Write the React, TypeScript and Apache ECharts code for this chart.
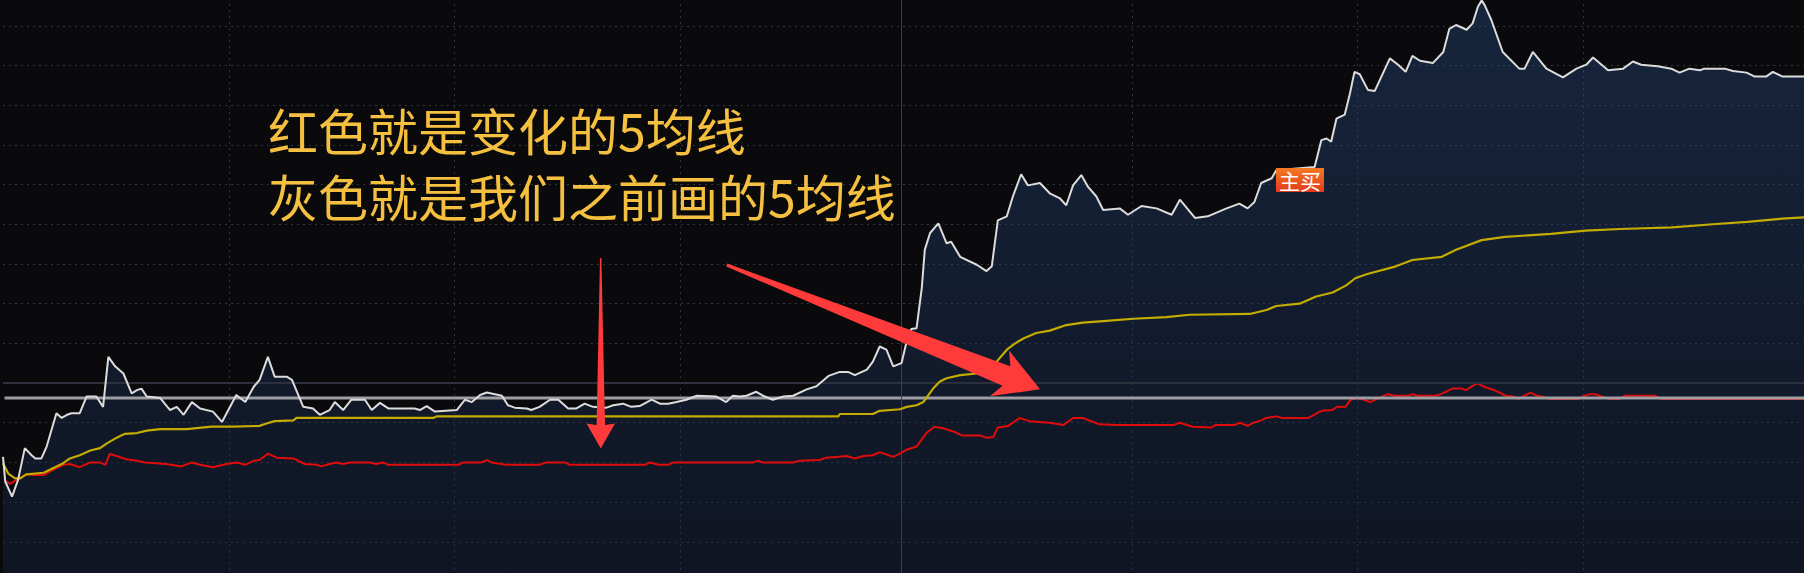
import React, { useEffect, useRef } from "react";
import * as echarts from "echarts";

// Intraday minutes (0 = 09:30, 120 = 11:30/13:00, 240 = 15:00) and % change vs previous close
const priceLine: [number, number][] = [
  [0, -0.93], [0.3, -1.24], [1.2, -1.43], [2.0, -1.22], [2.9, -0.82], [3.8, -0.91], [4.3, -0.95], [5.1, -0.95],
  [5.8, -0.8], [7.1, -0.38], [7.8, -0.44], [8.5, -0.4], [9.1, -0.38], [10.2, -0.38], [11.1, -0.17], [12.4, -0.17],
  [13.3, -0.3], [14.0, 0.33], [14.9, 0.21], [16.0, 0.12], [17.1, -0.13], [17.8, -0.09], [18.4, -0.07], [19.1, -0.17],
  [20.9, -0.19], [22.2, -0.34], [23.1, -0.3], [24.0, -0.4], [25.1, -0.24], [26.2, -0.32], [27.9, -0.36], [29.1, -0.49],
  [31.0, -0.15], [32.2, -0.24], [33.3, -0.05], [34.1, 0.04], [35.2, 0.33], [36.1, 0.08], [37.7, 0.08], [38.4, 0.04],
  [39.9, -0.3], [41.2, -0.32], [42.1, -0.4], [43.4, -0.34], [44.1, -0.24], [45.2, -0.34], [46.3, -0.21], [48.1, -0.21],
  [49.0, -0.34], [50.1, -0.25], [51.2, -0.32], [54.7, -0.32], [55.4, -0.34], [56.3, -0.29], [57.4, -0.36], [60.3, -0.34],
  [61.4, -0.21], [62.3, -0.24], [63.4, -0.15], [64.3, -0.12], [66.3, -0.16], [67.1, -0.28], [68.0, -0.31], [69.6, -0.32],
  [70.2, -0.34], [71.3, -0.3], [72.7, -0.21], [73.8, -0.21], [75.1, -0.32], [76.2, -0.32], [77.3, -0.26], [78.4, -0.3],
  [80.2, -0.31], [81.1, -0.28], [82.4, -0.26], [83.5, -0.3], [84.6, -0.29], [86.2, -0.21], [87.3, -0.26], [88.4, -0.26],
  [89.5, -0.24], [90.8, -0.21], [92.2, -0.16], [94.8, -0.17], [96.1, -0.24], [97.0, -0.16], [97.9, -0.17], [98.8, -0.16],
  [100.1, -0.11], [101.0, -0.16], [102.3, -0.21], [103.7, -0.17], [105.0, -0.16], [106.8, -0.08], [108.1, -0.04], [109.7, 0.09],
  [111.2, 0.14], [112.3, 0.14], [113.2, 0.1], [114.8, 0.17], [115.6, 0.27], [116.5, 0.46], [117.4, 0.42], [118.3, 0.21],
  [119.4, 0.25], [120.1, 0.53], [120.7, 0.68], [121.4, 0.69], [122.1, 1.2], [122.5, 1.68], [123.2, 1.89], [124.3, 2.01],
  [125.4, 1.76], [126.0, 1.78], [127.2, 1.59], [129.4, 1.49], [130.7, 1.41], [131.4, 1.47], [132.2, 2.05], [133.4, 2.1],
  [134.2, 2.35], [135.3, 2.63], [136.2, 2.49], [137.8, 2.52], [139.1, 2.39], [140.4, 2.33], [141.3, 2.24], [142.2, 2.49],
  [143.3, 2.62], [144.2, 2.47], [145.3, 2.35], [146.2, 2.18], [148.4, 2.2], [149.5, 2.12], [151.3, 2.23], [153.3, 2.2],
  [155.3, 2.12], [156.4, 2.31], [158.4, 2.08], [160.1, 2.1], [162.6, 2.2], [164.3, 2.26], [165.4, 2.2], [166.3, 2.28],
  [167.2, 2.52], [168.6, 2.58], [169.2, 2.68], [174.3, 2.72], [175.2, 3.06], [175.9, 3.08], [176.5, 3.04], [177.2, 3.33],
  [178.3, 3.38], [179.0, 3.65], [179.6, 3.92], [180.3, 3.89], [181.4, 3.69], [182.3, 3.68], [184.3, 4.09], [185.4, 4.01],
  [186.4, 3.92], [187.3, 4.12], [188.3, 4.06], [190.0, 4.03], [191.4, 4.17], [192.2, 4.46], [193.1, 4.51], [194.5, 4.45],
  [195.3, 4.53], [196.0, 4.74], [196.5, 4.82], [196.9, 4.76], [197.8, 4.57], [199.3, 4.17], [201.5, 3.96], [202.2, 3.96],
  [203.3, 4.17], [205.1, 3.96], [207.3, 3.85], [209.1, 3.96], [210.4, 4.01], [211.3, 4.1], [213.3, 3.94], [215.3, 3.96],
  [216.6, 4.05], [217.7, 4.01], [219.9, 3.99], [221.7, 3.96], [222.8, 3.91], [224.1, 3.96], [225.5, 3.94], [226.1, 3.96],
  [228.8, 3.96], [229.9, 3.93], [231.7, 3.91], [232.8, 3.86], [234.3, 3.86], [235.2, 3.92], [236.5, 3.86], [240, 3.86],
];

const avgLine: [number, number][] = [
  [0, -1.01], [0.7, -1.14], [1.6, -1.2], [2.3, -1.2], [3.1, -1.15], [5.4, -1.13], [6.7, -1.07], [8.0, -1.01],
  [8.9, -0.95], [10.2, -0.91], [11.6, -0.85], [12.9, -0.82], [13.8, -0.76], [14.9, -0.7], [16.2, -0.64], [17.8, -0.63],
  [19.1, -0.6], [20.9, -0.58], [24.4, -0.58], [27.7, -0.55], [30.6, -0.55], [34.1, -0.54], [35.0, -0.51], [36.1, -0.48],
  [38.6, -0.47], [39.0, -0.44], [57.2, -0.44], [57.6, -0.42], [111.0, -0.42], [111.2, -0.39], [115.6, -0.39], [116.5, -0.35],
  [119.2, -0.33], [120.1, -0.3], [121.4, -0.28], [122.3, -0.24], [123.6, -0.07], [124.5, 0.02], [125.4, 0.06], [127.2, 0.1],
  [129.4, 0.12], [131.5, 0.21], [133.4, 0.42], [134.5, 0.5], [135.6, 0.56], [137.3, 0.63], [139.1, 0.66], [141.3, 0.73],
  [143.5, 0.76], [146.2, 0.78], [150.2, 0.81], [154.6, 0.83], [157.7, 0.86], [165.7, 0.87], [167.9, 0.92], [169.2, 0.97],
  [172.3, 1.0], [174.5, 1.09], [176.7, 1.14], [178.5, 1.23], [179.7, 1.32], [181.2, 1.37], [185.1, 1.47], [187.3, 1.55],
  [191.2, 1.59], [193.1, 1.68], [196.5, 1.8], [199.6, 1.84], [205.7, 1.88], [210.3, 1.92], [214.9, 1.94], [221.8, 1.96],
  [227.2, 2.0], [231.8, 2.03], [236.4, 2.07], [240, 2.09],
];

const ma5Line: [number, number][] = [
  [0.3, -1.23], [0.9, -1.27], [1.8, -1.22], [3.1, -1.15], [4.0, -1.16], [5.4, -1.16], [6.7, -1.09], [8.0, -1.03],
  [8.9, -1.02], [10.2, -1.06], [11.6, -1.0], [12.9, -1.0], [13.6, -1.03], [14.2, -0.89], [15.1, -0.92], [16.4, -0.96],
  [17.8, -0.98], [18.9, -1.0], [21.7, -1.02], [23.7, -1.05], [25.1, -1.0], [26.2, -1.03], [27.9, -1.06], [29.7, -1.02],
  [31.0, -1.0], [32.2, -1.03], [33.3, -0.98], [34.1, -0.97], [35.2, -0.89], [36.4, -0.94], [38.6, -0.95], [40.1, -1.02],
  [41.7, -1.03], [42.3, -1.05], [43.4, -1.02], [44.3, -1.0], [45.2, -1.02], [46.1, -1.0], [48.8, -1.0], [49.6, -1.02],
  [50.5, -1.0], [51.2, -1.03], [60.5, -1.03], [61.2, -1.0], [63.6, -1.0], [64.3, -0.97], [64.9, -1.0], [66.9, -1.03],
  [71.3, -1.03], [72.2, -1.0], [74.7, -1.0], [75.3, -1.03], [85.3, -1.03], [86.0, -1.0], [87.1, -1.03], [88.4, -1.03],
  [89.1, -1.0], [99.7, -1.0], [100.3, -0.98], [101.0, -1.0], [105.0, -1.0], [105.9, -0.98], [108.5, -0.97], [109.4, -0.94],
  [111.0, -0.93], [112.1, -0.92], [113.2, -0.95], [114.3, -0.92], [115.6, -0.91], [116.5, -0.87], [117.4, -0.9], [118.3, -0.93],
  [119.2, -0.89], [120.1, -0.84], [121.4, -0.8], [122.7, -0.63], [123.8, -0.55], [124.9, -0.57], [126.3, -0.61], [127.4, -0.66],
  [129.8, -0.66], [130.7, -0.69], [131.6, -0.68], [132.2, -0.56], [133.6, -0.54], [135.1, -0.44], [136.4, -0.48], [139.1, -0.5],
  [140.9, -0.53], [142.2, -0.44], [143.5, -0.44], [145.7, -0.52], [148.0, -0.53], [155.5, -0.53], [156.4, -0.5], [158.1, -0.55],
  [160.6, -0.56], [161.1, -0.53], [163.6, -0.53], [164.4, -0.5], [165.4, -0.54], [166.2, -0.5], [167.2, -0.47], [167.9, -0.44],
  [169.2, -0.42], [170.0, -0.44], [173.5, -0.44], [174.8, -0.37], [175.3, -0.35], [176.6, -0.34], [177.3, -0.3], [178.4, -0.3],
  [179.1, -0.21], [180.0, -0.19], [180.9, -0.21], [181.7, -0.24], [182.4, -0.21], [184.0, -0.14], [185.0, -0.16], [186.8, -0.16],
  [187.3, -0.14], [188.0, -0.16], [190.3, -0.16], [191.1, -0.14], [192.6, -0.07], [193.9, -0.07], [194.4, -0.09], [195.9, 0.0],
  [196.9, -0.05], [198.2, -0.09], [199.7, -0.16], [200.7, -0.17], [201.4, -0.2], [202.2, -0.16], [203.0, -0.12], [203.8, -0.16],
  [204.5, -0.17], [205.5, -0.2], [209.3, -0.2], [209.9, -0.17], [210.9, -0.14], [211.6, -0.14], [212.4, -0.17], [213.5, -0.2],
  [214.8, -0.2], [215.5, -0.16], [219.5, -0.16], [220.4, -0.2], [240, -0.2],
];

const drawnMa5Level = -0.19; // the grey line drawn earlier
const prevCloseLevel = 0;
const middayDivider = 119.4; // solid divider drawn at the lunch break
const sessionEnd = 240;
const pctMin = -2.5;
const pctMax = 5.0;
const pctStep = 0.5;
const annotationLines = ["红色就是变化的5均线", "灰色就是我们之前画的5均线"];
const signalLabel = "主买";

export default function App() {
  const ref = useRef<HTMLDivElement>(null);

  useEffect(() => {
    document.body.style.margin = "0";
    document.body.style.overflow = "hidden";
    const chart = echarts.init(ref.current!, null, { renderer: "svg" });
    const cjk = "'Noto Sans CJK SC', 'Noto Sans', sans-serif";
    const dotC = "#30343c";
    const dotted = { color: dotC, width: 1, type: [2, 4] as any };
    // vertical split lines at 30/60/90/120/150/180/210 — the one at 120 is replaced by the solid divider
    const vDotted = {
      color: [dotC, dotC, dotC, "rgba(0,0,0,0)", dotC, dotC, dotC],
      width: 1,
      type: [2, 4] as any,
    };

    const arrowRed = "#fe3a3b";

    chart.setOption({
      animation: false,
      backgroundColor: "#0a0a0c",
      grid: { left: 3, top: -13.9, width: 1806, height: 595.4, outerBoundsMode: "none" },
      xAxis: {
        type: "value",
        min: 0,
        max: sessionEnd,
        interval: 30,
        axisLine: { show: false },
        axisTick: { show: false },
        axisLabel: { show: false },
        splitLine: { show: true, showMinLine: false, showMaxLine: false, lineStyle: vDotted },
      },
      yAxis: {
        type: "value",
        min: pctMin,
        max: pctMax,
        interval: pctStep,
        axisLine: { show: false },
        axisTick: { show: false },
        axisLabel: { show: false },
        splitLine: { show: true, lineStyle: dotted },
      },
      series: [
        {
          type: "line",
          name: "area",
          data: priceLine,
          symbol: "none",
          z: 1,
          lineStyle: { width: 0, opacity: 0 },
          areaStyle: {
            origin: "start",
            color: new echarts.graphic.LinearGradient(0, 0, 0, 1, [
              { offset: 0, color: "rgba(44,84,146,0.52)" },
              { offset: 1, color: "rgba(24,40,74,0.5)" },
            ]),
          },
          markLine: {
            silent: true,
            symbol: ["none", "none"],
            label: { show: false },
            data: [
              { yAxis: prevCloseLevel, lineStyle: { color: "#2b303c", width: 2, type: "solid" } },
              { xAxis: middayDivider, lineStyle: { color: "#3a3f4b", width: 1, type: "solid" } },
            ],
          },
        },
        {
          type: "line",
          name: "ma5",
          data: ma5Line,
          symbol: "none",
          z: 3,
          lineStyle: { color: "#e00b0b", width: 2 },
        },
        {
          type: "line",
          name: "drawn",
          data: [[0.2, drawnMa5Level], [sessionEnd, drawnMa5Level]],
          symbol: "none",
          z: 4,
          lineStyle: { color: "#9e9ea3", width: 3 },
        },
        {
          type: "line",
          name: "avg",
          data: avgLine,
          symbol: "none",
          z: 5,
          lineStyle: { color: "#c4ad00", width: 2.2 },
        },
        {
          type: "line",
          name: "price",
          data: priceLine,
          symbol: "none",
          z: 6,
          lineStyle: { color: "#dcdcdc", width: 2 },
        },
      ],
      graphic: [
        {
          type: "text",
          x: 268,
          y: 129,
          z: 100,
          style: {
            text: annotationLines[0],
            fill: "#f5c040",
            fontSize: 50,
            fontFamily: cjk,
            align: "left",
            verticalAlign: "middle",
            textAlign: "left",
            textVerticalAlign: "middle",
          },
        },
        {
          type: "text",
          x: 268,
          y: 195,
          z: 100,
          style: {
            text: annotationLines[1],
            fill: "#f5c040",
            fontSize: 50,
            fontFamily: cjk,
            align: "left",
            verticalAlign: "middle",
            textAlign: "left",
            textVerticalAlign: "middle",
          },
        },
        {
          type: "polygon",
          z: 100,
          shape: {
            points: [
              [600, 258], [601.4, 258], [605, 425], [615, 423.5], [600.8, 448.5], [586.5, 423.5], [596.6, 425],
            ],
          },
          style: { fill: arrowRed },
        },
        {
          type: "polygon",
          z: 100,
          shape: {
            points: [
              [727.2, 263.6], [1010.4, 366.2], [1009.1, 350.6], [1040, 389.3], [989.9, 396.3], [1002.6, 385.8], [726.2, 266.4],
            ],
          },
          style: { fill: arrowRed },
        },
        {
          type: "rect",
          z: 100,
          shape: { x: 1276, y: 168, width: 48, height: 24 },
          style: {
            fill: new echarts.graphic.LinearGradient(0, 0, 0, 1, [
              { offset: 0, color: "#f47a22" },
              { offset: 1, color: "#e33a1c" },
            ]),
          },
        },
        {
          type: "text",
          x: 1300,
          y: 180,
          z: 101,
          style: {
            text: signalLabel,
            fill: "#ffffff",
            fontSize: 21,
            fontFamily: cjk,
            align: "center",
            verticalAlign: "middle",
            textAlign: "center",
            textVerticalAlign: "middle",
          },
        },
      ],
    });

    return () => chart.dispose();
  }, []);

  return (
    <div
      ref={ref}
      style={{ position: "absolute", left: 0, top: 0, width: 1804, height: 573 }}
    />
  );
}
